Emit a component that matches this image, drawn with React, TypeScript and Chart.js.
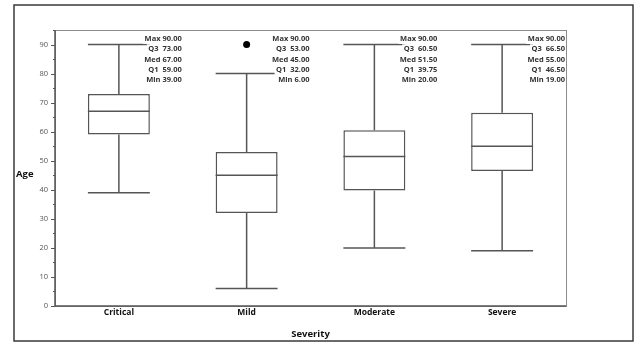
import React, { useEffect, useRef } from "react";
import { Chart, registerables } from "chart.js";

Chart.register(...registerables);

const categories = ["Critical", "Mild", "Moderate", "Severe"];
const q1Values = [59, 32, 39.75, 46.5];
const medianValues = [67, 45, 51.5, 55];
const q3Values = [73, 53, 60.5, 66.5];
const whiskerLowValues = [39, 6, 20, 19];
const whiskerHighValues = [90, 80, 90, 90];
const maxValues = [90, 90, 90, 90];
const minValues = [39, 6, 20, 19];
const outlierValues: (number | null)[] = [null, 90, null, null];
const yTickLabels = [0, 10, 20, 30, 40, 50, 60, 70, 80, 90];

const LINE = "#555555";
const FONT = "'Open Sans'";

const decorPlugin = {
  id: "boxDecor",
  beforeDraw(chart: any) {
    const ctx = chart.ctx;
    ctx.save();
    ctx.fillStyle = "#ffffff";
    ctx.fillRect(0, 0, chart.width, chart.height);
    ctx.strokeStyle = "#3a3a3a";
    ctx.lineWidth = 1.5;
    ctx.strokeRect(14, 5, 619, 336);
    ctx.restore();
  },
  afterDatasetsDraw(chart: any) {
    const ctx = chart.ctx;
    const x = chart.scales.x;
    const y = chart.scales.y;
    const meta = chart.getDatasetMeta(0);
    const catHalf = (x.getPixelForValue(1) - x.getPixelForValue(0)) / 2;
    ctx.save();
    ctx.strokeStyle = LINE;
    ctx.lineWidth = 1.5;
    const line = (x1: number, y1: number, x2: number, y2: number) => {
      ctx.beginPath();
      ctx.moveTo(x1, y1);
      ctx.lineTo(x2, y2);
      ctx.stroke();
    };
    categories.forEach((_, i) => {
      const bar = meta.data[i];
      const cx = x.getPixelForValue(i);
      const half = bar.width / 2;
      const yq1 = y.getPixelForValue(q1Values[i]);
      const yq3 = y.getPixelForValue(q3Values[i]);
      const yHi = y.getPixelForValue(whiskerHighValues[i]);
      const yLo = y.getPixelForValue(whiskerLowValues[i]);
      const yMed = y.getPixelForValue(medianValues[i]);
      line(cx, yq3, cx, yHi);
      line(cx, yq1, cx, yLo);
      line(cx - half, yHi, cx + half, yHi);
      line(cx - half, yLo, cx + half, yLo);
      line(cx - half, yMed, cx + half, yMed);
    });
    // stats text
    ctx.font = `bold 7.5px ${FONT}`;
    ctx.textAlign = "right";
    ctx.textBaseline = "middle";
    categories.forEach((_, i) => {
      const right = x.getPixelForValue(i) + catHalf - 1;
      const lines = [
        `Max ${maxValues[i].toFixed(2)}`,
        `Q3  ${q3Values[i].toFixed(2)}`,
        `Med ${medianValues[i].toFixed(2)}`,
        `Q1  ${q1Values[i].toFixed(2)}`,
        `Min ${minValues[i].toFixed(2)}`,
      ];
      lines.forEach((t, k) => {
        const yy = chart.chartArea.top + 9 + k * 10.25;
        const w = ctx.measureText(t).width;
        ctx.fillStyle = "#ffffff";
        ctx.fillRect(right - w - 1.5, yy - 5, w + 1.5, 10);
        ctx.fillStyle = "#333333";
        ctx.fillText(t, right, yy);
      });
    });
    ctx.restore();
  },
  afterDraw(chart: any) {
    const ctx = chart.ctx;
    const a = chart.chartArea;
    const y = chart.scales.y;
    ctx.save();
    ctx.strokeStyle = "#8c8c8c";
    ctx.lineWidth = 1;
    ctx.strokeRect(a.left + 0.5, a.top + 0.5, a.right - a.left, a.bottom - a.top);
    ctx.strokeStyle = LINE;
    ctx.lineWidth = 1.5;
    ctx.beginPath();
    ctx.moveTo(a.left, a.top);
    ctx.lineTo(a.left, a.bottom);
    ctx.lineTo(a.right, a.bottom);
    ctx.stroke();
    // tick marks
    ctx.lineWidth = 1;
    for (let v = 0; v <= 95; v += 5) {
      const py = Math.round(y.getPixelForValue(v)) + 0.5;
      const len = v % 10 === 0 ? 4 : 2;
      ctx.beginPath();
      ctx.moveTo(a.left - len, py);
      ctx.lineTo(a.left, py);
      ctx.stroke();
    }
    // axis titles
    ctx.fillStyle = "#111111";
    ctx.font = `bold 9.5px ${FONT}`;
    ctx.textAlign = "left";
    ctx.textBaseline = "middle";
    ctx.fillText("Age", 16, 174);
    ctx.textAlign = "center";
    ctx.fillText("Severity", (a.left + a.right) / 2, 334);
    ctx.restore();
  },
};

export default function App() {
  const ref = useRef<HTMLCanvasElement | null>(null);
  useEffect(() => {
    if (!ref.current) return;
    const chart = new Chart(ref.current, {
      type: "bar",
      data: {
        labels: categories,
        datasets: [
          {
            type: "bar",
            data: categories.map((_, i) => [q1Values[i], q3Values[i]]) as any,
            backgroundColor: "#ffffff",
            borderColor: LINE,
            borderWidth: 1.5,
            borderSkipped: false,
            barPercentage: 0.485,
            categoryPercentage: 1,
          } as any,
          {
            type: "line",
            data: outlierValues as any,
            showLine: false,
            pointRadius: 3.5,
            pointBackgroundColor: "#000000",
            pointBorderColor: "#000000",
            pointBorderWidth: 0,
          } as any,
        ],
      },
      options: {
        animation: false,
        responsive: false,
        maintainAspectRatio: false,
        layout: { padding: { left: 0, top: 30, right: 71, bottom: 0 } },
        plugins: { legend: { display: false }, tooltip: { enabled: false } },
        scales: {
          x: {
            offset: true,
            grid: { display: false, drawTicks: false },
            border: { display: false },
            ticks: {
              color: "#111111",
              font: { family: FONT, size: 8.5, weight: "bold" },
              padding: 1,
              maxRotation: 0,
            },
            afterFit: (s: any) => {
              s.height = 38;
            },
          },
          y: {
            min: 0,
            max: 95,
            grid: { display: false, drawTicks: false },
            border: { display: false },
            ticks: {
              stepSize: 5,
              autoSkip: false,
              color: "#555555",
              padding: 7,
              font: { family: FONT, size: 7.5 },
              callback: (v: any) => (yTickLabels.includes(Number(v)) ? String(v) : ""),
            },
            afterFit: (s: any) => {
              s.width = 55;
            },
          },
        },
      },
      plugins: [decorPlugin],
    });
    return () => chart.destroy();
  }, []);
  return (
    <div style={{ position: "absolute", left: 0, top: 0, width: 637, height: 344 }}>
      <canvas ref={ref} width={637} height={344} style={{ display: "block" }} />
    </div>
  );
}
